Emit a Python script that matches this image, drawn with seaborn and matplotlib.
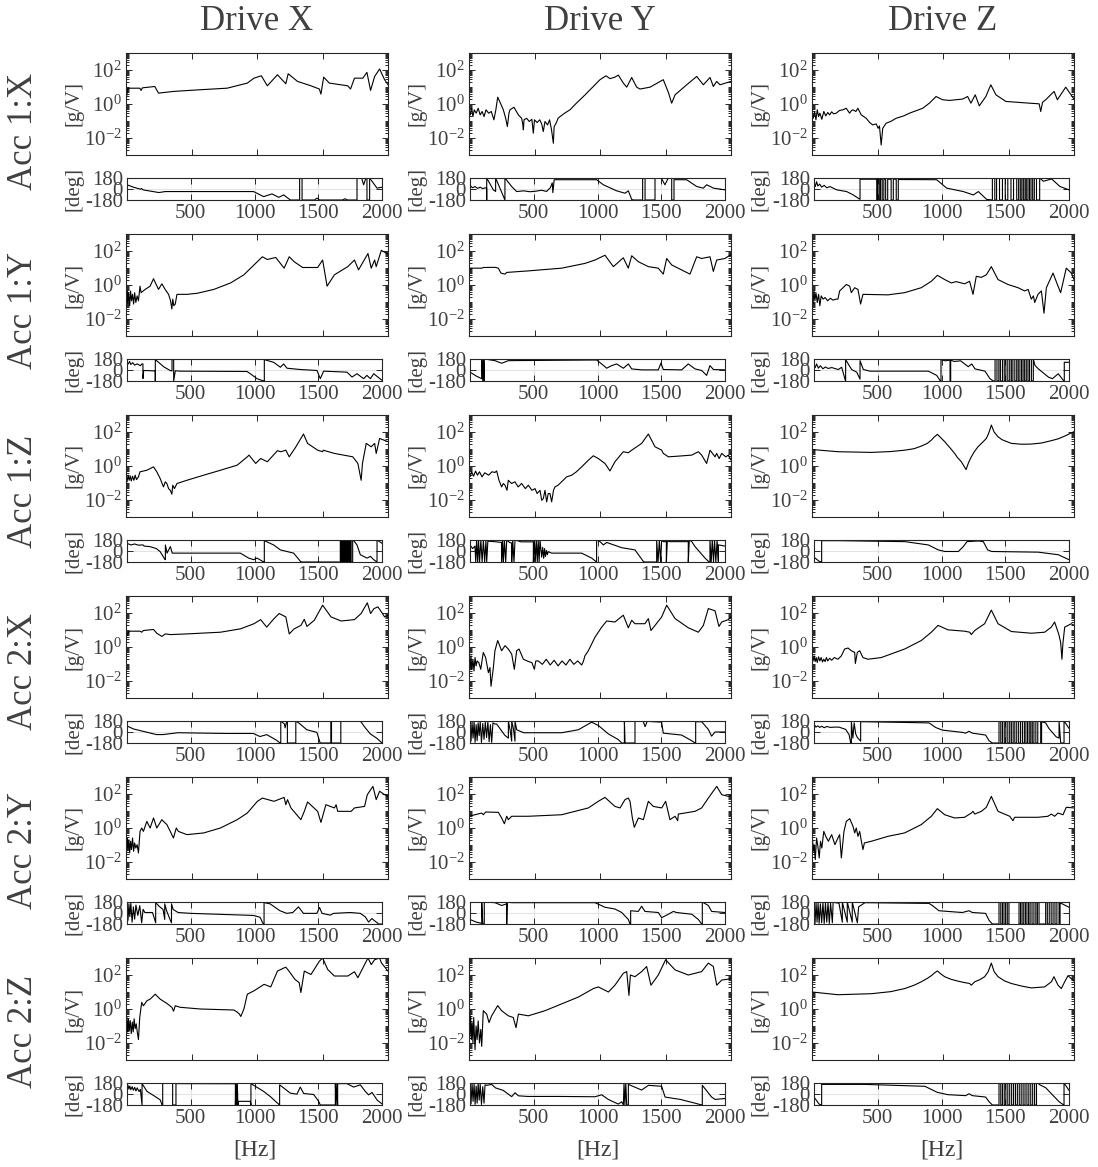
import numpy as np
import pandas as pd
import matplotlib
matplotlib.use("Agg")
import matplotlib.pyplot as plt
from matplotlib.ticker import LogLocator, NullFormatter
import seaborn as sns

# ---------------------------------------------------------------- labels
DRIVES = ["Drive X", "Drive Y", "Drive Z"]
SENSORS = ["Acc 1:X", "Acc 1:Y", "Acc 1:Z", "Acc 2:X", "Acc 2:Y", "Acc 2:Z"]
MAG_TICKS = [1e-2, 1e0, 1e2]
MAG_TICK_LABELS = [r"$10^{-2}$", r"$10^{0}$", r"$10^{2}$"]
PHASE_TICKS = [-180, 0, 180]
PHASE_TICK_LABELS = ["-180", "0", "180"]
FREQ_TICKS = [500, 1000, 1500, 2000]
FREQ_TICK_LABELS = ["500", "1000", "1500", "2000"]

# ---------------------------------------------------------------- data
# magnitude points: (frequency Hz, log10 |H| in g/V); phase points: (Hz, deg)
MAG_A1X_DX = [(0,0.25),(15,0.93),(105,0.93),(115,0.80),(125,0.95),(220,1.03),(248,0.64),(363,0.74),(568,0.84),(772,0.93),(926,1.23),(977,1.52),(1033,1.66),(1079,1.07),(1156,1.72),(1220,1.19),(1238,1.78),(1309,1.33),(1412,1.07),(1476,0.88),(1488,0.58),(1509,1.58),(1552,1.23),(1693,1.07),(1714,0.88),(1744,1.52),(1808,1.52),(1839,1.86),(1867,0.80),(1898,1.62),(1936,2.06),(1974,1.43),(2000,1.13)]
PH_A1X_DX = [(0,69),(50,30),(105,-3),(115,8),(125,-14),(250,-58),(300,-42),(993,-42),(1072,-125),(1137,-80),(1190,-136),(1229,-97),(1281,-180),(1354,-180),(1354,180),(1373,180),(1373,-180),(1470,-180),(1490,-150),(1510,-180),(1690,-180),(1710,-160),(1730,-180),(1804,-180),(1804,180),(1840,180),(1856,69),(1874,180),(1882,180),(1882,-180),(1903,-180),(1903,180),(1961,14),(2000,30)]

MAG_A1X_DY = [(0,-0.34),(10,-0.64),(20,-0.25),(30,-0.74),(40,-0.34),(55,-0.54),(70,-0.25),(85,-0.64),(100,-0.44),(115,-0.74),(130,-0.34),(150,-0.54),(170,-0.44),(190,-0.93),(205,-0.34),(219,0.40),(240,0.05),(262,-0.34),(280,-0.84),(293,-1.33),(305,-0.54),(313,-0.34),(343,-0.19),(377,-0.64),(402,-0.84),(410,-1.17),(415,-1.52),(420,-0.93),(440,-0.84),(460,-1.03),(480,-0.90),(491,-1.72),(500,-0.93),(520,-1.09),(540,-0.93),(555,-1.17),(567,-1.62),(580,-1.03),(600,-1.23),(615,-0.93),(630,-1.52),(644,-2.31),(650,-1.33),(665,-1.13),(680,-0.84),(695,-0.74),(730,-0.54),(771,-0.34),(820,0.05),(873,0.44),(949,1.03),(1000,1.43),(1046,1.66),(1076,1.49),(1114,1.58),(1140,1.70),(1178,1.23),(1204,0.99),(1242,1.56),(1280,0.99),(1305,0.88),(1382,0.99),(1483,1.43),(1522,0.68),(1547,0.05),(1573,0.54),(1662,1.13),(1738,1.62),(1789,1.13),(1840,1.56),(1865,1.03),(1891,1.33),(1916,1.13),(2000,1.33)]
PH_A1X_DY = [(0,60),(20,20),(40,40),(60,10),(80,30),(100,5),(118,20),(131,10),(131,-180),(131,180),(183,-14),(201,-40),(201,180),(274,-180),(274,180),(327,40),(366,-42),(420,-30),(470,-45),(520,-35),(560,-20),(600,-40),(630,20),(645,100),(650,-60),(660,150),(667,152),(993,152),(1046,69),(1150,-30),(1216,-69),(1242,-30),(1268,-170),(1280,-180),(1354,-180),(1354,180),(1373,180),(1373,-180),(1451,-180),(1451,180),(1500,180),(1529,69),(1555,180),(1582,180),(1582,-180),(1600,-180),(1600,152),(1699,152),(1778,41),(1830,14),(1856,69),(1910,14),(2000,-14)]

MAG_A1X_DZ = [(0,-0.34),(10,-0.84),(20,-0.44),(30,-0.93),(40,-0.34),(50,-0.74),(60,-0.54),(75,-0.90),(90,-0.44),(105,-0.70),(120,-0.50),(135,-0.64),(150,-0.46),(165,-0.58),(185,-0.54),(210,-0.38),(236,-0.34),(261,-0.25),(287,-0.54),(300,-0.40),(312,-0.34),(335,-0.44),(350,-0.25),(376,-0.64),(414,-0.84),(440,-1.09),(464,-1.23),(490,-1.17),(505,-1.43),(515,-1.29),(528,-2.41),(540,-1.43),(566,-1.13),(600,-1.03),(642,-0.84),(700,-0.70),(744,-0.54),(800,-0.38),(845,-0.25),(896,0.05),(947,0.44),(997,0.25),(1048,0.21),(1150,0.29),(1188,0.44),(1213,0.05),(1246,0.54),(1277,-0.11),(1327,0.44),(1365,1.13),(1404,0.54),(1480,0.15),(1657,0.05),(1734,0.01),(1746,-0.44),(1760,0.10),(1784,0.25),(1848,0.74),(1873,0.25),(1937,0.99),(2000,0.29)]
PH_A1X_DZ = [(0,100),(10,40),(20,120),(30,50),(45,80),(60,30),(80,60),(100,20),(125,40),(178,-14),(256,-42),(308,-97),(348,-152),(361,-170),(361,160),(492,160),(492,-180),(500,-180),(500,160),(512,160),(512,-180),(522,-180),(522,160),(535,160),(535,-180),(548,-180),(548,160),(562,160),(562,-180),(578,-180),(578,160),(605,160),(605,-180),(622,-180),(622,160),(645,160),(645,-180),(661,-180),(661,155),(962,152),(1041,14),(1171,-42),(1250,-97),(1289,-42),(1354,-170),(1399,-180),(1399,180),(1418,180),(1418,-180),(1432,-180),(1432,180),(1455,180),(1455,-180),(1478,-180),(1478,180),(1500,180),(1500,-180),(1520,-180),(1520,180),(1545,180),(1545,-180),(1565,-180),(1565,180),(1590,180),(1590,-180),(1605,-180),(1605,180),(1618,180),(1618,-180),(1630,-180),(1630,180),(1642,180),(1642,-180),(1655,-180),(1655,180),(1665,180),(1665,-180),(1678,-180),(1678,180),(1690,180),(1690,-180),(1702,-180),(1702,180),(1715,180),(1715,-180),(1728,-180),(1728,180),(1745,180),(1745,-180),(1770,-180),(1770,180),(1799,127),(1864,164),(1929,41),(2000,-14)]

MAG_A1Y_DX = [(0,-0.64),(5,-1.12),(10,-0.35),(15,-1.03),(20,-0.45),(28,-1.22),(35,-0.35),(42,-0.93),(50,-0.55),(58,-1.12),(66,-0.45),(75,-1.03),(85,-0.64),(95,-0.93),(107,-0.07),(115,-0.45),(146,-0.26),(184,-0.07),(210,0.37),(248,-0.26),(274,0.07),(299,-0.26),(325,-0.55),(340,-0.93),(350,-1.41),(357,-0.83),(365,-1.22),(376,-1.12),(389,-0.55),(465,-0.55),(542,-0.49),(670,-0.26),(798,0.12),(900,0.60),(977,1.18),(1041,1.66),(1079,1.50),(1143,1.62),(1207,0.99),(1246,1.66),(1284,1.37),(1348,1.03),(1463,1.03),(1501,1.47),(1535,-0.07),(1591,0.60),(1693,1.08),(1744,1.47),(1775,0.89),(1847,1.85),(1872,0.99),(1898,1.47),(1910,1.08),(1949,2.04),(2000,1.81)]
PH_A1Y_DX = [(0,126),(10,100),(20,140),(30,90),(45,120),(60,80),(80,100),(105,70),(118,100),(125,100),(125,-140),(131,-8),(222,-15),(222,-180),(222,170),(290,50),(340,-10),(353,-15),(353,170),(366,170),(366,-180),(379,-13),(420,-19),(941,-24),(967,-61),(1020,-142),(1072,-180),(1077,-180),(1077,170),(1150,126),(1203,45),(1229,99),(1255,29),(1360,8),(1490,-8),(1516,-142),(1542,-19),(1725,-35),(1765,-115),(1804,-61),(1856,-142),(1882,-88),(1909,-142),(1935,-61),(2000,-169)]

MAG_A1Y_DY = [(0,0.60),(8,0.99),(97,0.99),(109,1.03),(198,1.04),(224,0.99),(244,0.70),(275,0.64),(288,0.74),(453,0.83),(707,0.99),(885,1.27),(962,1.47),(1038,1.75),(1102,1.08),(1178,1.60),(1216,0.99),(1242,1.72),(1293,1.37),(1369,1.08),(1445,0.99),(1483,0.64),(1509,1.56),(1547,1.18),(1687,0.64),(1738,1.66),(1776,1.56),(1840,1.66),(1865,0.80),(1891,1.47),(1954,1.56),(2000,1.79)]
PH_A1Y_DY = [(0,-35),(50,-100),(92,-142),(92,180),(100,-180),(105,180),(112,-180),(112,180),(196,153),(248,110),(301,153),(993,164),(1033,99),(1072,29),(1111,72),(1150,99),(1203,29),(1242,99),(1268,18),(1346,2),(1477,2),(1498,115),(1516,8),(1660,2),(1712,99),(1765,18),(1817,-8),(1856,-88),(1882,72),(1909,8),(2000,2)]

MAG_A1Y_DZ = [(0,-0.45),(8,-1.12),(15,-0.35),(22,-0.93),(30,-0.45),(40,-1.03),(50,-0.55),(60,-1.22),(70,-0.64),(85,-0.83),(100,-0.74),(120,-0.93),(140,-0.78),(160,-0.89),(185,-0.83),(198,-0.83),(211,-0.35),(237,-0.16),(262,0.03),(288,-0.07),(300,-0.45),(326,-0.16),(351,-0.26),(371,-1.12),(389,-0.55),(580,-0.58),(707,-0.45),(834,-0.16),(911,0.22),(957,0.57),(1013,0.32),(1064,0.12),(1100,0.20),(1165,0.07),(1203,0.22),(1229,-0.55),(1254,0.51),(1293,0.45),(1331,0.60),(1369,1.08),(1420,0.32),(1496,0.03),(1573,-0.16),(1623,-0.35),(1650,-0.26),(1674,-0.83),(1690,-0.64),(1700,-1.03),(1725,-0.55),(1751,-0.35),(1771,-1.66),(1789,-0.16),(1840,0.70),(1873,0.03),(1898,-0.45),(1941,0.99),(1980,0.70),(2000,0.32)]
PH_A1Y_DZ = [(0,76),(10,40),(20,100),(35,30),(50,70),(70,20),(90,50),(110,25),(140,40),(170,20),(191,8),(217,45),(243,-150),(248,-180),(248,170),(295,8),(335,-35),(361,-150),(361,153),(387,8),(440,-19),(897,-19),(962,-88),(988,-169),(996,-180),(996,170),(1030,150),(1060,160),(1067,160),(1067,-180),(1072,-180),(1072,160),(1100,140),(1150,150),(1210,54),(1237,99),(1263,18),(1341,-19),(1380,-142),(1406,-180),(1420,-180),(1420,180),(1435,180),(1435,-180),(1450,-180),(1450,180),(1462,180),(1462,-180),(1478,-180),(1478,180),(1492,180),(1492,-180),(1505,-180),(1505,180),(1520,180),(1520,-180),(1535,-180),(1535,180),(1548,180),(1548,-180),(1560,-180),(1560,180),(1575,180),(1575,-180),(1590,-180),(1590,180),(1602,180),(1602,-180),(1615,-180),(1615,180),(1628,180),(1628,-180),(1640,-180),(1640,180),(1652,180),(1652,-180),(1665,-180),(1665,180),(1678,180),(1678,-180),(1690,-180),(1690,180),(1705,180),(1705,-180),(1720,-180),(1720,180),(1733,76),(1760,18),(1838,-115),(1870,-142),(1916,-61),(1955,-169),(1963,-180),(1963,126),(2000,126)]

MAG_A1Z_DX = [(0,-0.64),(8,-0.93),(16,-0.54),(24,-0.84),(32,-0.58),(40,-0.88),(50,-0.60),(60,-0.84),(70,-0.54),(80,-0.80),(95,-0.64),(107,-0.34),(159,-0.25),(210,-0.05),(235,-0.34),(261,-0.74),(286,-1.23),(300,-0.93),(312,-1.03),(325,-1.33),(338,-1.43),(350,-1.66),(357,-1.13),(370,-1.33),(389,-1.03),(465,-0.84),(593,-0.54),(721,-0.25),(849,0.05),(926,0.54),(939,0.64),(990,0.15),(1028,0.44),(1079,0.25),(1156,0.90),(1182,0.84),(1220,0.93),(1246,0.54),(1297,1.13),(1355,1.88),(1386,1.33),(1463,0.93),(1501,0.84),(1506,0.93),(1591,0.74),(1731,0.54),(1770,0.15),(1795,-0.84),(1805,0.15),(1834,1.33),(1872,1.13),(1898,1.33),(1910,0.74),(1936,1.62),(2000,1.43)]
PH_A1Z_DX = [(0,126),(30,99),(60,115),(90,95),(125,100),(135,80),(180,72),(230,40),(260,-10),(295,-130),(301,-142),(301,99),(314,-35),(340,72),(355,-35),(392,-35),(889,-35),(954,-116),(994,-142),(1020,-116),(1072,-180),(1077,-180),(1077,170),(1150,99),(1203,18),(1307,-35),(1360,-169),(1370,-180),(1673,-180),(1673,180),(1680,180),(1680,-180),(1688,-180),(1688,180),(1695,180),(1695,-180),(1702,-180),(1702,180),(1710,180),(1710,-180),(1718,-180),(1718,180),(1726,180),(1726,-180),(1734,-180),(1734,180),(1742,180),(1742,-180),(1750,-180),(1750,180),(1758,180),(1758,-180),(1770,-180),(1770,180),(1778,170),(1804,99),(1830,-61),(1882,-116),(1909,-88),(1935,-142),(1961,-180),(1961,180),(2000,126)]

MAG_A1Z_DY = [(0,-0.44),(8,-0.64),(20,-0.34),(35,-0.60),(50,-0.30),(65,-0.54),(80,-0.34),(100,-0.64),(120,-0.40),(150,-0.54),(175,-0.34),(198,-0.38),(211,-0.29),(229,-0.84),(249,-1.23),(262,-1.03),(275,-1.13),(290,-1.43),(300,-0.84),(325,-1.03),(351,-0.93),(375,-1.23),(402,-1.03),(430,-1.33),(453,-1.13),(480,-1.43),(504,-1.33),(520,-1.62),(542,-1.43),(555,-2.02),(567,-1.92),(580,-1.43),(593,-2.11),(605,-1.62),(618,-1.62),(631,-2.11),(645,-1.43),(656,-1.23),(680,-1.13),(707,-0.93),(745,-0.64),(784,-0.54),(820,-0.34),(860,-0.05),(911,0.34),(949,0.60),(987,0.44),(1038,0.15),(1076,-0.29),(1114,0.25),(1178,0.84),(1216,0.78),(1242,0.93),(1318,1.33),(1369,1.88),(1420,1.13),(1471,0.93),(1483,0.74),(1522,0.54),(1598,0.58),(1700,0.64),(1751,0.84),(1776,0.64),(1814,0.15),(1840,0.93),(1878,0.54),(1890,0.74),(1910,0.44),(1929,0.74),(1960,0.54),(1980,0.64),(2000,0.34)]
PH_A1Z_DY = [(0,100),(20,40),(39,80),(45,-180),(52,180),(60,-180),(67,180),(75,-180),(85,180),(95,-180),(105,180),(115,-180),(125,180),(131,-180),(140,160),(190,153),(248,140),(248,-180),(255,180),(262,-180),(270,180),(280,-180),(288,180),(310,140),(327,130),(327,-180),(335,180),(345,-180),(353,180),(400,150),(497,150),(497,-180),(505,180),(512,-180),(520,180),(528,-180),(535,180),(542,-180),(549,180),(562,-100),(570,60),(578,-120),(585,40),(592,-90),(600,10),(607,-60),(614,-10),(640,-35),(876,-35),(954,-116),(993,-180),(993,180),(1020,153),(1046,99),(1072,140),(1190,54),(1294,18),(1359,-169),(1370,-180),(1464,-180),(1464,180),(1475,-180),(1485,180),(1495,-180),(1503,180),(1516,153),(1540,153),(1540,-180),(1548,180),(1560,153),(1712,153),(1712,-180),(1720,180),(1739,153),(1765,72),(1843,-116),(1870,-169),(1882,-180),(1882,180),(1892,-180),(1900,180),(1910,-180),(1918,180),(1928,-180),(1938,180),(1948,-180),(1948,100),(2000,80)]

MAG_A1Z_DZ = [(0,0.97),(198,0.84),(453,0.80),(600,0.85),(707,0.93),(780,1.02),(834,1.17),(880,1.33),(911,1.52),(930,1.68),(957,1.86),(985,1.65),(1013,1.43),(1050,1.10),(1089,0.74),(1110,0.50),(1140,0.25),(1176,-0.21),(1195,0.20),(1216,0.54),(1240,0.85),(1267,1.13),(1300,1.38),(1331,1.62),(1350,1.95),(1369,2.41),(1390,2.00),(1420,1.72),(1450,1.55),(1522,1.33),(1600,1.28),(1674,1.29),(1750,1.35),(1827,1.49),(1880,1.60),(1929,1.76),(2000,2.02)]
PH_A1Z_DZ = [(0,-100),(40,-169),(60,-180),(60,169),(200,169),(714,153),(897,99),(975,18),(1027,-8),(1132,-8),(1171,72),(1200,153),(1289,164),(1328,153),(1362,18),(1393,-8),(1759,-19),(1916,-61),(2000,-142)]

MAG_A2X_DX = [(0,0.58),(25,0.93),(107,0.93),(120,0.87),(133,0.97),(210,1.03),(235,0.81),(274,0.62),(300,0.77),(340,0.73),(465,0.77),(721,0.87),(875,1.07),(977,1.37),(1028,1.61),(1074,1.17),(1130,1.67),(1169,1.97),(1220,1.77),(1246,0.77),(1284,1.07),(1335,1.27),(1361,1.63),(1381,1.21),(1437,1.57),(1501,2.46),(1565,1.77),(1642,1.53),(1744,1.61),(1795,1.97),(1842,2.60),(1867,1.97),(1893,2.26),(1923,2.36),(1949,2.07),(1974,1.77),(2000,1.87)]
PH_A2X_DX = [(0,99),(50,50),(204,-28),(230,-42),(283,-42),(400,-12),(780,-24),(991,-24),(1043,-74),(1096,-43),(1174,-136),(1200,-180),(1206,-180),(1206,180),(1235,130),(1240,68),(1253,180),(1258,180),(1258,-180),(1324,-180),(1324,180),(1358,130),(1410,37),(1489,-6),(1515,-180),(1599,-180),(1599,180),(1604,180),(1604,-180),(1677,-180),(1677,180),(1830,180),(1869,68),(1908,-30),(1961,-105),(2000,-180)]

MAG_A2X_DY = [(0,-0.62),(8,-1.21),(15,-0.52),(22,-1.31),(30,-0.72),(38,-1.41),(46,-0.62),(54,-1.11),(62,-0.82),(75,-0.92),(90,-1.31),(97,-0.92),(109,-0.32),(127,-0.62),(148,-1.51),(160,-1.21),(168,-2.31),(186,-1.21),(198,-0.22),(219,0.38),(249,-0.22),(275,0.08),(300,-0.12),(326,-0.42),(346,-1.31),(364,-0.22),(382,-0.12),(415,-0.72),(453,-0.85),(480,-0.92),(499,-1.31),(510,-0.82),(529,-0.82),(560,-1.02),(590,-0.72),(620,-1.06),(650,-0.78),(680,-1.11),(710,-0.82),(740,-1.06),(770,-0.72),(800,-1.02),(830,-0.82),(860,-1.06),(873,-0.85),(885,-0.52),(911,-0.22),(962,0.58),(1013,1.17),(1051,1.53),(1114,1.47),(1178,1.87),(1216,1.13),(1242,1.57),(1267,1.37),(1343,1.37),(1369,1.67),(1389,0.97),(1420,1.27),(1471,1.77),(1509,2.46),(1573,1.67),(1674,1.13),(1751,0.87),(1789,1.27),(1827,2.26),(1878,2.13),(1908,1.21),(1929,1.47),(1980,1.61),(2000,1.77)]
PH_A2X_DY = [(0,100),(8,-150),(16,160),(24,-100),(32,170),(40,-170),(48,120),(56,-140),(64,150),(72,-60),(80,170),(90,-170),(100,140),(110,-120),(120,160),(130,-90),(140,170),(150,-160),(160,120),(170,-170),(180,150),(196,130),(209,130),(274,-56),(301,-100),(301,180),(314,40),(327,-150),(327,180),(340,60),(353,-150),(353,180),(366,37),(420,-12),(719,-12),(850,37),(954,161),(1007,106),(1085,-31),(1163,-124),(1190,-180),(1211,-180),(1211,180),(1216,-180),(1294,-180),(1294,174),(1359,174),(1373,87),(1390,174),(1503,161),(1516,-19),(1660,-50),(1739,-143),(1765,-180),(1770,-180),(1770,168),(1817,168),(1869,43),(1895,-68),(1922,0),(2000,0)]

MAG_A2X_DZ = [(0,-0.62),(8,-0.82),(16,-0.52),(24,-0.86),(32,-0.62),(40,-0.91),(50,-0.58),(60,-0.82),(70,-0.62),(80,-0.88),(90,-0.72),(100,-0.86),(110,-0.62),(120,-0.82),(135,-0.66),(150,-0.78),(170,-0.62),(198,-0.72),(224,-0.52),(249,-0.12),(275,-0.06),(300,-0.22),(326,-0.32),(331,-0.97),(346,-0.32),(364,-0.22),(389,-0.62),(427,-0.72),(529,-0.62),(707,-0.12),(834,0.38),(911,0.87),(962,1.27),(1038,1.01),(1165,0.93),(1204,0.87),(1216,0.73),(1242,0.97),(1318,1.37),(1369,2.17),(1420,1.37),(1522,0.91),(1674,0.81),(1776,0.87),(1827,1.17),(1852,1.47),(1883,0.77),(1898,0.28),(1908,-0.72),(1915,0.18),(1929,1.17),(1980,1.37),(2000,1.27)]
PH_A2X_DZ = [(0,130),(15,80),(30,100),(45,75),(60,95),(80,70),(100,90),(130,75),(160,80),(196,80),(248,43),(275,-43),(288,-180),(293,-180),(293,174),(305,-100),(315,150),(327,-31),(340,-90),(366,-150),(366,168),(400,168),(902,149),(954,74),(1007,31),(1163,-6),(1190,-19),(1216,12),(1242,-19),(1346,-50),(1373,-143),(1399,-180),(1451,-180),(1451,180),(1465,180),(1465,-180),(1478,-180),(1478,180),(1492,180),(1492,-180),(1505,-180),(1505,180),(1520,180),(1520,-180),(1535,-180),(1535,180),(1548,180),(1548,-180),(1562,-180),(1562,180),(1575,180),(1575,-180),(1590,-180),(1590,180),(1605,180),(1605,-180),(1620,-180),(1620,180),(1635,180),(1635,-180),(1650,-180),(1650,180),(1662,180),(1662,-180),(1675,-180),(1675,180),(1688,180),(1688,-180),(1700,-180),(1700,180),(1712,180),(1712,-180),(1725,-180),(1725,180),(1740,180),(1740,-180),(1755,-180),(1755,180),(1778,180),(1778,-180),(1785,-180),(1785,168),(1817,149),(1843,56),(1869,-6),(1900,-80),(1922,-100),(1922,180),(1935,-180),(1961,-180),(1961,180),(2000,60)]

MAG_A2Y_DX = [(0,-0.78),(5,-1.37),(10,-0.59),(15,-1.18),(22,-0.69),(28,-1.47),(35,-0.78),(42,-1.27),(50,-0.59),(58,-1.37),(66,-0.88),(75,-1.18),(85,-0.98),(95,-1.47),(107,-0.20),(120,0.00),(133,-0.20),(159,0.39),(184,0.00),(210,0.59),(235,0.00),(274,0.49),(286,0.39),(312,0.20),(338,-0.20),(362,-0.59),(384,0.00),(400,-0.20),(465,-0.39),(593,-0.29),(721,0.00),(849,0.49),(926,0.88),(1003,1.57),(1041,1.76),(1130,1.57),(1207,1.80),(1220,1.37),(1233,1.67),(1259,1.18),(1335,0.49),(1361,0.98),(1386,1.53),(1463,0.98),(1488,0.33),(1526,1.37),(1591,1.18),(1604,1.37),(1616,0.98),(1719,0.98),(1744,1.18),(1821,1.27),(1842,1.96),(1885,2.45),(1910,1.67),(1936,2.16),(1974,1.96),(2000,1.86)]
PH_A2Y_DX = [(0,120),(8,-120),(15,150),(22,-60),(30,160),(40,-150),(50,100),(60,-100),(70,130),(85,-40),(100,120),(115,-160),(126,60),(140,8),(200,8),(225,-160),(225,170),(250,114),(283,57),(296,-106),(296,150),(310,40),(340,-120),(349,-160),(349,150),(362,57),(401,8),(500,-6),(991,-40),(1043,-69),(1069,-180),(1075,-180),(1075,170),(1122,150),(1200,37),(1253,-6),(1300,8),(1345,100),(1384,-6),(1489,-6),(1510,91),(1530,-6),(1594,-35),(1620,-6),(1751,8),(1830,-6),(1869,-63),(1895,-149),(1920,-91),(1974,-180),(2000,-180)]

MAG_A2Y_DY = [(0,0.69),(97,0.88),(109,0.78),(127,0.94),(224,0.92),(249,0.59),(270,0.25),(288,0.69),(300,0.49),(326,0.69),(453,0.69),(707,0.78),(911,1.18),(987,1.57),(1038,1.80),(1114,1.27),(1153,1.18),(1191,1.67),(1216,1.76),(1229,1.57),(1247,0.59),(1262,0.04),(1293,0.59),(1331,0.49),(1369,1.57),(1407,1.27),(1471,1.18),(1501,1.57),(1534,0.49),(1573,0.69),(1593,0.43),(1598,0.82),(1725,0.98),(1776,1.18),(1827,1.76),(1891,2.45),(1929,1.96),(1980,1.86),(2000,1.92)]
PH_A2Y_DY = [(0,-106),(50,-150),(80,-163),(92,-170),(92,180),(100,-180),(112,-180),(112,180),(196,169),(248,123),(288,150),(288,-180),(292,180),(327,169),(980,169),(1059,94),(1137,65),(1190,8),(1242,-106),(1255,-180),(1260,-180),(1260,37),(1320,26),(1346,111),(1372,26),(1477,8),(1503,-77),(1556,-20),(1595,26),(1620,8),(1739,-20),(1791,-106),(1817,-180),(1822,-180),(1822,180),(1869,123),(1895,26),(2000,8)]

MAG_A2Y_DZ = [(0,-0.20),(10,-1.37),(16,-0.98),(25,-1.86),(35,-0.59),(45,-1.08),(55,-1.76),(65,-0.78),(75,-1.18),(90,-0.20),(105,-0.49),(125,-0.78),(150,-0.39),(175,-0.98),(198,-0.59),(211,-0.39),(224,-1.76),(244,-0.20),(262,0.39),(288,0.55),(313,0.10),(326,-0.29),(338,0.00),(351,-0.49),(364,-0.20),(377,-0.78),(389,-1.27),(400,-0.88),(453,-0.78),(580,-0.49),(707,-0.29),(834,0.20),(911,0.69),(957,1.14),(1013,0.78),(1089,0.59),(1165,0.63),(1216,0.88),(1229,0.98),(1242,0.82),(1293,0.98),(1331,1.22),(1369,1.86),(1420,0.98),(1509,0.69),(1534,0.43),(1547,0.63),(1725,0.63),(1801,0.69),(1827,0.82),(1852,0.69),(1878,0.88),(1916,0.78),(1941,1.22),(2000,1.18)]
PH_A2Y_DZ = [(0,120),(8,-170),(16,170),(24,-150),(32,160),(40,-170),(50,150),(60,-160),(70,170),(80,-170),(90,160),(100,-150),(110,170),(120,-170),(130,160),(144,-160),(150,175),(196,160),(222,-150),(222,180),(261,-150),(261,180),(300,-150),(300,180),(340,-160),(350,100),(366,123),(400,169),(902,157),(928,123),(980,37),(1163,8),(1216,37),(1242,8),(1346,-6),(1373,-120),(1399,-180),(1451,-180),(1451,180),(1465,180),(1465,-180),(1478,-180),(1478,180),(1490,180),(1490,-180),(1503,-180),(1503,180),(1516,180),(1516,-180),(1529,-180),(1529,180),(1608,180),(1608,-180),(1620,-180),(1620,180),(1632,180),(1632,-180),(1645,-180),(1645,180),(1658,180),(1658,-180),(1670,-180),(1670,180),(1683,180),(1683,-180),(1695,-180),(1695,180),(1710,180),(1710,-180),(1725,-180),(1725,180),(1740,180),(1740,-180),(1752,-180),(1752,180),(1765,180),(1765,-180),(1817,-180),(1817,180),(1830,180),(1830,-180),(1845,-180),(1845,180),(1860,180),(1860,-180),(1875,-180),(1875,180),(1890,180),(1890,-180),(1905,-180),(1905,180),(1922,180),(1922,-180),(1930,-180),(1930,160),(1948,149),(2000,94)]

MAG_A2Z_DX = [(0,-1.06),(6,-0.48),(12,-1.35),(18,-0.58),(25,-1.26),(32,-0.68),(40,-1.45),(48,-0.77),(55,-1.35),(62,-0.58),(70,-1.16),(78,-0.87),(86,-1.35),(95,-1.80),(105,-0.48),(120,0.39),(133,0.19),(159,0.48),(184,0.58),(210,0.77),(223,0.87),(261,0.58),(312,0.33),(350,0.10),(363,-0.13),(376,0.19),(414,0.10),(568,0.00),(824,-0.06),(850,-0.19),(865,-0.29),(876,-0.44),(890,-0.19),(900,0.00),(926,0.87),(977,1.07),(1054,1.45),(1105,1.30),(1156,2.23),(1207,2.42),(1220,2.46),(1240,2.27),(1290,1.74),(1322,1.55),(1335,0.97),(1361,2.23),(1412,2.03),(1476,2.81),(1501,3.00),(1540,2.32),(1591,1.94),(1693,1.94),(1744,2.19),(1770,1.84),(1821,2.61),(1847,3.00),(1872,2.61),(1898,2.90),(1936,3.00),(1950,2.71),(2000,2.23)]
PH_A2Z_DX = [(0,100),(8,140),(15,80),(22,130),(30,70),(40,120),(50,60),(60,110),(70,50),(80,100),(95,40),(105,75),(118,-180),(118,170),(157,42),(220,-40),(261,-97),(275,-180),(280,-180),(280,180),(358,180),(358,-180),(384,-180),(384,170),(850,168),(850,-180),(855,180),(860,-180),(865,180),(870,-180),(876,-120),(967,-120),(972,-180),(972,170),(1072,42),(1124,-42),(1176,-141),(1197,-180),(1197,150),(1281,14),(1333,-3),(1359,113),(1386,8),(1464,-8),(1503,-119),(1516,-180),(1634,-180),(1634,180),(1640,-180),(1646,180),(1652,-180),(1652,170),(1725,170),(1778,113),(1830,150),(1869,42),(1895,-14),(1922,25),(1961,-97),(2000,-163)]

MAG_A2Z_DY = [(0,-0.60),(6,-1.60),(12,-0.40),(18,-1.80),(24,-0.80),(30,-2.00),(36,-0.50),(46,-2.40),(54,-1.00),(62,-1.80),(70,-0.70),(80,-2.00),(90,-1.20),(97,-2.20),(109,-0.10),(135,-0.30),(153,-0.80),(173,-0.40),(219,0.20),(249,-0.10),(300,-0.40),(338,-0.50),(359,-1.10),(377,-0.30),(453,-0.40),(580,-0.10),(707,0.30),(834,0.70),(949,1.20),(987,1.30),(1064,1.00),(1114,1.40),(1178,2.10),(1204,2.20),(1221,0.80),(1232,2.00),(1267,1.90),(1318,2.20),(1356,2.50),(1389,1.40),(1445,2.00),(1501,2.90),(1573,2.30),(1674,2.00),(1776,2.20),(1827,2.70),(1865,2.50),(1891,1.40),(1929,1.70),(1980,1.76),(2000,1.80)]
PH_A2Z_DY = [(0,150),(8,-160),(16,170),(24,-120),(32,160),(40,-170),(48,130),(56,-150),(64,170),(72,-100),(80,160),(90,-170),(100,120),(110,-150),(118,150),(131,142),(170,157),(200,100),(260,60),(327,-43),(353,20),(380,-30),(453,-40),(700,-40),(980,-45),(1033,-13),(1085,-89),(1163,-165),(1190,-127),(1203,-180),(1208,180),(1215,-180),(1222,180),(1229,-180),(1242,-180),(1242,157),(1346,65),(1400,142),(1503,126),(1530,-50),(1650,-89),(1765,-150),(1817,-180),(1822,-180),(1822,142),(1895,-50),(1922,-89),(2000,-74)]

MAG_A2Z_DZ = [(0,1.00),(198,0.84),(453,0.90),(600,1.02),(707,1.20),(780,1.40),(834,1.60),(880,1.80),(911,1.96),(935,2.12),(957,2.24),(985,2.05),(1013,1.90),(1060,1.75),(1114,1.64),(1160,1.56),(1204,1.50),(1216,1.40),(1242,1.60),(1280,1.72),(1318,1.90),(1345,2.20),(1369,2.70),(1390,2.20),(1420,1.90),(1470,1.65),(1522,1.50),(1600,1.35),(1674,1.24),(1776,1.30),(1827,1.60),(1847,1.90),(1878,1.40),(1903,1.20),(1929,1.60),(1954,1.96),(2000,1.64)]
PH_A2Z_DZ = [(0,-50),(40,-165),(60,-180),(60,157),(400,157),(870,126),(967,27),(1050,-11),(1190,-27),(1216,4),(1242,-27),(1346,-50),(1373,-126),(1399,-180),(1451,-180),(1451,180),(1465,180),(1465,-180),(1478,-180),(1478,180),(1492,180),(1492,-180),(1505,-180),(1505,180),(1520,180),(1520,-180),(1535,-180),(1535,180),(1550,180),(1550,-180),(1565,-180),(1565,180),(1580,180),(1580,-180),(1595,-180),(1595,180),(1610,180),(1610,-180),(1625,-180),(1625,180),(1640,180),(1640,-180),(1655,-180),(1655,180),(1670,180),(1670,-180),(1685,-180),(1685,180),(1700,180),(1700,-180),(1715,-180),(1715,180),(1730,180),(1730,-180),(1745,-180),(1745,180),(1765,180),(1765,157),(1817,103),(1869,-11),(1922,-126),(1948,-165),(1961,-180),(1961,180),(2000,60)]

MAG_GRID = [[MAG_A1X_DX, MAG_A1X_DY, MAG_A1X_DZ],
            [MAG_A1Y_DX, MAG_A1Y_DY, MAG_A1Y_DZ],
            [MAG_A1Z_DX, MAG_A1Z_DY, MAG_A1Z_DZ],
            [MAG_A2X_DX, MAG_A2X_DY, MAG_A2X_DZ],
            [MAG_A2Y_DX, MAG_A2Y_DY, MAG_A2Y_DZ],
            [MAG_A2Z_DX, MAG_A2Z_DY, MAG_A2Z_DZ]]
PH_GRID = [[PH_A1X_DX, PH_A1X_DY, PH_A1X_DZ],
           [PH_A1Y_DX, PH_A1Y_DY, PH_A1Y_DZ],
           [PH_A1Z_DX, PH_A1Z_DY, PH_A1Z_DZ],
           [PH_A2X_DX, PH_A2X_DY, PH_A2X_DZ],
           [PH_A2Y_DX, PH_A2Y_DY, PH_A2Y_DZ],
           [PH_A2Z_DX, PH_A2Z_DY, PH_A2Z_DZ]]

# ---------------------------------------------------------------- style
sns.set_style("ticks")
plt.rcParams["font.family"] = ["Liberation Serif", "DejaVu Serif"]
plt.rcParams["mathtext.fontset"] = "custom"
plt.rcParams["mathtext.rm"] = "Liberation Serif"
plt.rcParams["mathtext.it"] = "Liberation Serif:italic"
plt.rcParams["mathtext.bf"] = "Liberation Serif:bold"

TXT = "#404040"
AXC = "#262626"
TITLE_C = "#404040"
TICK_FS = 15
LABEL_FS = 15
HZ_FS = 17
TITLE_FS = 25
LW = 0.8

W, H = 1098, 1167
fig = plt.figure(figsize=(W / 100, H / 100), dpi=100)
fig.patch.set_facecolor("white")

MAG_LEFT = [126, 469, 812]
MAG_W = 262
PH_LEFT = [127, 470, 814]
PH_W = 255
ROW_PITCH = 181
MAG_TOP0, MAG_H = 53, 102
PH_TOP0, PH_H = 178, 22


def add_px_axes(left, top, w, h):
    return fig.add_axes([left / W, 1 - (top + h) / H, w / W, h / H])


def style_box(ax):
    for s in ax.spines.values():
        s.set_color(AXC)
        s.set_linewidth(0.8)
    ax.tick_params(which="both", direction="in", top=True, right=True,
                   color=AXC, labelcolor=TXT, labelsize=TICK_FS, width=0.7)
    ax.tick_params(which="major", length=4)
    ax.tick_params(which="minor", length=2)
    ax.set_facecolor("white")


for r in range(6):
    for c in range(3):
        # ---- magnitude
        axm = add_px_axes(MAG_LEFT[c], MAG_TOP0 + ROW_PITCH * r, MAG_W, MAG_H)
        axm.set_yscale("log")
        dm = pd.DataFrame(MAG_GRID[r][c], columns=["freq", "logmag"])
        dm["mag"] = 10.0 ** dm["logmag"]
        sns.lineplot(data=dm, x="freq", y="mag", estimator=None, sort=False,
                     ax=axm, color="black", linewidth=LW)
        axm.set_xlim(0, 2000)
        axm.set_ylim(1e-3, 1e3)
        axm.set_yticks(MAG_TICKS)
        axm.set_yticklabels(MAG_TICK_LABELS)
        axm.yaxis.set_minor_locator(LogLocator(base=10, subs=np.arange(1, 10), numticks=30))
        axm.yaxis.set_minor_formatter(NullFormatter())
        axm.set_xticks(FREQ_TICKS[:3])
        axm.set_xticklabels([])
        axm.set_xlabel("")
        axm.set_ylabel("")
        style_box(axm)
        axm.tick_params(axis="y", pad=3)

        # ---- phase
        axp = add_px_axes(PH_LEFT[c], PH_TOP0 + ROW_PITCH * r, PH_W, PH_H)
        dp = pd.DataFrame(PH_GRID[r][c], columns=["freq", "phase"])
        axp.grid(True, color="#e3e3e3", linewidth=0.8)
        axp.set_axisbelow(True)
        sns.lineplot(data=dp, x="freq", y="phase", estimator=None, sort=False,
                     ax=axp, color="black", linewidth=LW)
        axp.set_xlim(0, 2000)
        axp.set_ylim(-180, 180)
        axp.set_yticks(PHASE_TICKS)
        axp.set_yticklabels(PHASE_TICK_LABELS)
        axp.set_xticks(FREQ_TICKS)
        axp.set_xticklabels(FREQ_TICK_LABELS)
        axp.set_xlabel("")
        axp.set_ylabel("")
        style_box(axp)
        axp.tick_params(axis="x", pad=3)
        axp.tick_params(axis="y", pad=3)

        # ---- unit labels
        mag_cy = MAG_TOP0 + ROW_PITCH * r + MAG_H / 2
        ph_cy = PH_TOP0 + ROW_PITCH * r + PH_H / 2
        fig.text((MAG_LEFT[c] - 52) / W, 1 - mag_cy / H, "[g/V]", rotation=90,
                 ha="center", va="center", fontsize=LABEL_FS, color=TXT)
        fig.text((MAG_LEFT[c] - 52) / W, 1 - ph_cy / H, "[deg]", rotation=90,
                 ha="center", va="center", fontsize=LABEL_FS, color=TXT)
        if r == 5:
            fig.text((PH_LEFT[c] + PH_W / 2) / W, 1 - 1150 / H, "[Hz]",
                     ha="center", va="center", fontsize=HZ_FS, color=TXT)

for c, name in enumerate(DRIVES):
    fig.text((MAG_LEFT[c] + MAG_W / 2) / W, 1 - 21 / H, name,
             ha="center", va="center", fontsize=TITLE_FS, color=TITLE_C)

for r, name in enumerate(SENSORS):
    fig.text(24 / W, 1 - (131 + 180 * r) / H, name, rotation=90,
             ha="center", va="center", fontsize=TITLE_FS, color=TITLE_C)

fig.savefig("out.png", dpi=100, facecolor="white")
